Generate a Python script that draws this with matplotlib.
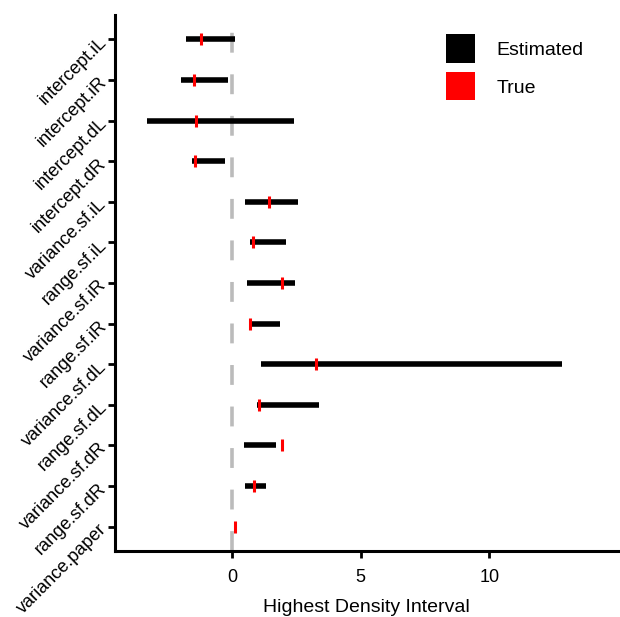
import matplotlib.pyplot as plt
from matplotlib.patches import Patch
import numpy as np

params = ["intercept.iL", "intercept.iR", "intercept.dL", "intercept.dR",
          "variance.sf.iL", "range.sf.iL", "variance.sf.iR", "range.sf.iR",
          "variance.sf.dL", "range.sf.dL", "variance.sf.dR", "range.sf.dR",
          "variance.paper"]
hdi_low = [-1.79, -2.00, -3.31, -1.56, 0.50, 0.70, 0.57, 0.68, 1.11, 0.95, 0.45, 0.49, 0.09]
hdi_high = [0.13, -0.17, 2.41, -0.27, 2.55, 2.10, 2.44, 1.88, 12.81, 3.36, 1.70, 1.30, 0.13]
true_vals = [-1.20, -1.47, -1.40, -1.45, 1.45, 0.83, 1.94, 0.70, 3.28, 1.05, 1.96, 0.85, 0.11]
xticks = [0, 5, 10]

plt.rcParams['font.family'] = ['Liberation Sans', 'DejaVu Sans']

fig = plt.figure(figsize=(6.2, 6.17), dpi=100)
ax = fig.add_axes([115/620, (617-551)/617, (618-115)/620, (551-15)/617])

n = len(params)
ypos = np.arange(n, 0, -1)

ax.axvline(0, color='#bbbbbb', linewidth=2.6, dashes=(5.5, 6), zorder=1)
ax.hlines(ypos, hdi_low, hdi_high, color='black', linewidth=4.0, capstyle='butt', zorder=2)
ax.plot(true_vals, ypos, linestyle='none', marker='|', markersize=8.5, markeredgewidth=2.2,
        color='red', zorder=3)

ax.set_xlim(-4.55, 15.0)
ax.set_ylim(0.4, n + 0.6)
ax.set_xticks(xticks)
ax.set_xticklabels([str(t) for t in xticks], fontsize=13)
ax.set_yticks(ypos)
ax.set_yticklabels(params, fontsize=13, rotation=45, ha='right', va='center',
                   rotation_mode='anchor')
ax.set_xlabel("Highest Density Interval", fontsize=14, labelpad=9)

for s in ['top', 'right']:
  ax.spines[s].set_visible(False)
for s in ['left', 'bottom']:
  ax.spines[s].set_linewidth(2.2)
ax.tick_params(axis='both', length=5, width=2, color='black', labelcolor='black')
ax.tick_params(axis='x', pad=8)
ax.tick_params(axis='y', pad=3)

handles = [Patch(facecolor='black', edgecolor='none'), Patch(facecolor='red', edgecolor='none')]
ax.legend(handles, ['Estimated', 'True'], loc='upper left', bbox_to_anchor=(0.619, 1.0),
          frameon=False, fontsize=14, handlelength=1.5, handleheight=1.85,
          handletextpad=1.1, labelspacing=0.5, borderaxespad=0.6)

plt.savefig("out.png", dpi=100)
